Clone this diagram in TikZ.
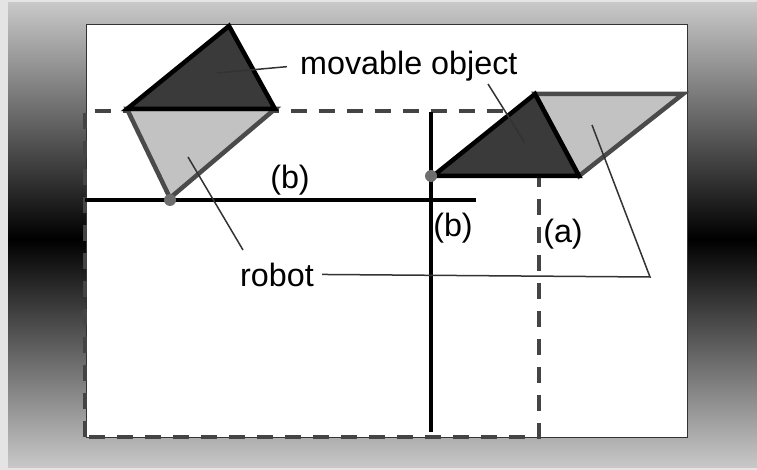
\documentclass[tikz,border=0pt]{standalone}
\usepackage{fontspec}
\setmainfont{Liberation Sans}
\definecolor{objdark}{HTML}{3A3A3A}
\definecolor{roblight}{HTML}{C2C2C2}
\definecolor{robedge}{HTML}{4A4A4A}
\definecolor{dashgray}{HTML}{444444}
\definecolor{jointgray}{HTML}{6E6E6E}
\definecolor{outerlight}{HTML}{E4E4E4}
\definecolor{gradtop}{HTML}{C8C8C8}
\begin{document}
\begin{tikzpicture}[x=1pt,y=-1pt,
  lbl/.style={font=\fontsize{32.3}{38}\selectfont, inner sep=0pt},
  objfill/.style={fill=objdark, draw=black, line width=4.5pt},
  robfill/.style={fill=roblight, draw=robedge, line width=4.5pt},
  leader/.style={draw=black!80, line width=1.5pt},
  axisline/.style={draw=black, line width=3.8pt},
  boundary/.style={draw=dashgray, line width=3.8pt, dash pattern=on 16pt off 12pt},
  joint/.style={circle, fill=jointgray, inner sep=0pt, minimum size=12pt}]
\useasboundingbox (0,0) rectangle (757,470);
% background
\fill[outerlight] (0,0) rectangle (757,470);
\shade[top color=gradtop, bottom color=black] (8,3) rectangle (757,239);
\shade[top color=black, bottom color=gradtop] (8,239) rectangle (757,467);
% workspace
\draw[fill=white, draw=black!80, line width=1pt] (86,25) rectangle (687,437);
% reachable region (a)
\draw[boundary] (85,437) -- (85,111) -- (539,111) -- (539,437) -- cycle;
% axes (b)
\coordinate (hA) at (85,200); \coordinate (hB) at (476,200);
\coordinate (vA) at (431,112); \coordinate (vB) at (431,432);
\draw[axisline] (hA) -- (hB);
\draw[axisline] (vA) -- (vB);
% left configuration
\coordinate (L1) at (127,109); \coordinate (T1) at (229,26);
\coordinate (R1) at (275,109); \coordinate (B1) at (170,198);
\draw[robfill] (L1) -- (R1) -- (B1) -- cycle;
\draw[objfill] (L1) -- (T1) -- (R1) -- cycle;
% right configuration
\coordinate (L2) at (433,176); \coordinate (T2) at (535,94);
\coordinate (R2) at (579,176); \coordinate (P2) at (683,94);
\draw[robfill] (T2) -- (P2) -- (R2) -- cycle;
\draw[objfill] (L2) -- (T2) -- (R2) -- cycle;
% joints
\node[joint] (jl) at (170,200) {};
\node[joint] (jr) at (431,176) {};
% labels
\node[lbl, anchor=base west] (mo) at (300,75) {movable object};
\node[lbl, anchor=base west] (rb) at (240,286) {robot};
\node[lbl] (b1) at (290,180) {(b)};
\node[lbl] (b2) at (453,228) {(b)};
\node[lbl] (a) at (563,234) {(a)};
% leaders
\coordinate (objL) at (217,73);
\coordinate (moR) at (488,84); \coordinate (objR) at (525,143);
\coordinate (rbU) at (243,250); \coordinate (robL) at (188,157);
\coordinate (elbow) at (650,277); \coordinate (robR) at (592,125);
\draw[leader] ([xshift=-13pt]mo.west) -- (objL);
\draw[leader] (moR) -- (objR);
\draw[leader] (rbU) -- (robL);
\draw[leader] ([xshift=8pt]rb.east) -- (elbow) -- (robR);
\end{tikzpicture}
\end{document}
